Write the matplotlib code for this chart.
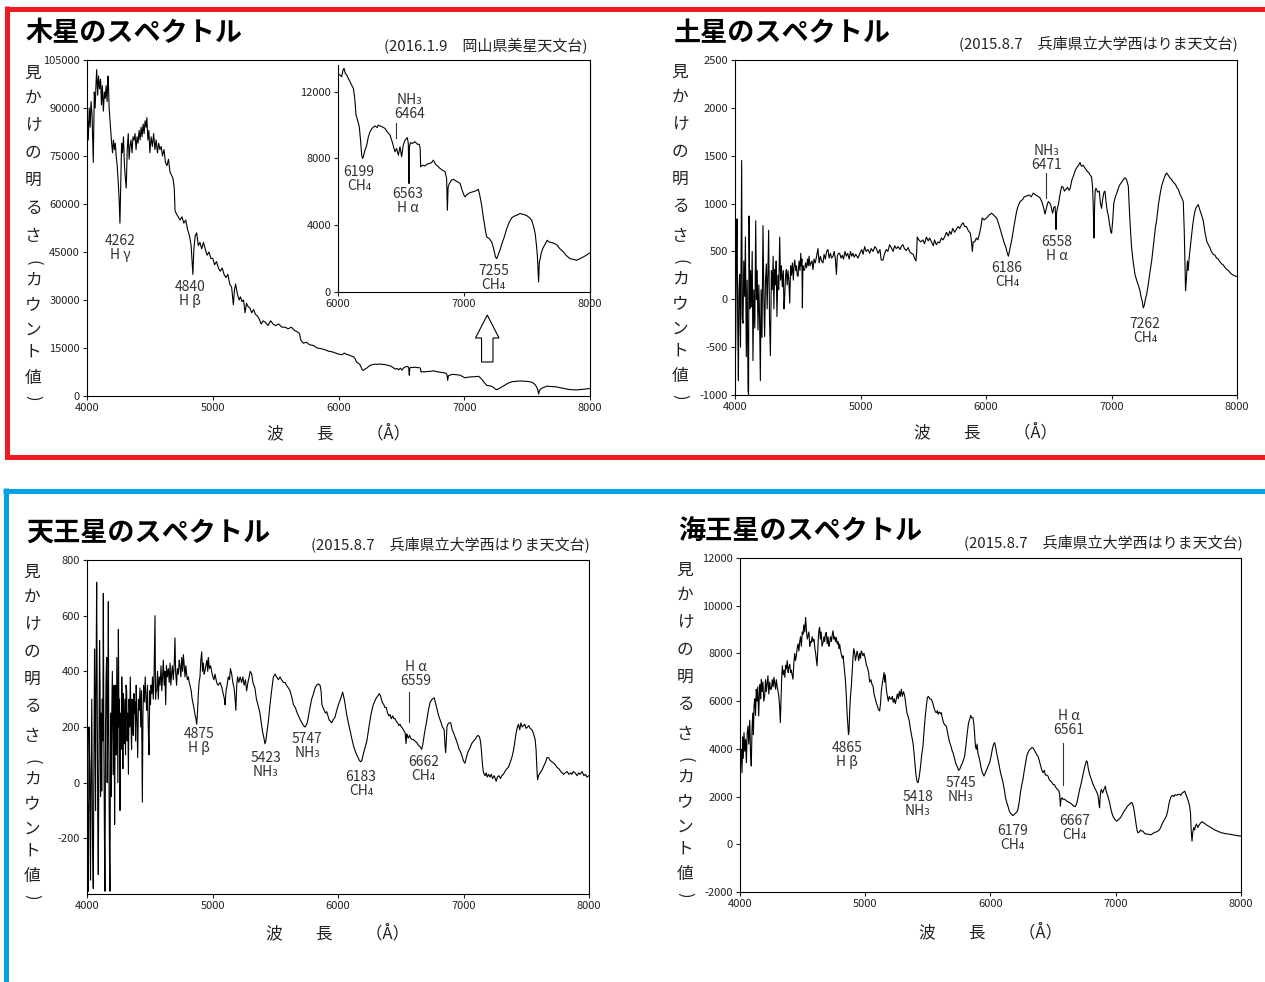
import matplotlib
matplotlib.use('Agg')
import matplotlib.pyplot as plt
from matplotlib.lines import Line2D
from matplotlib.patches import FancyArrow

# ---- Jupiter, 4000-6000 A (counts) ----
jup_wl = [4000, 4005, 4010, 4018, 4025, 4032, 4040, 4050, 4058, 4065, 4072, 4077, 4085, 4092,
          4100, 4108, 4115, 4122, 4130, 4138, 4145, 4152, 4160, 4166, 4170, 4176, 4183, 4190,
          4196, 4203, 4210, 4218, 4225, 4232, 4240, 4248, 4255, 4262, 4268, 4275, 4282, 4290,
          4298, 4305, 4312, 4320, 4328, 4335, 4342, 4350, 4358, 4366, 4374, 4382, 4390, 4398,
          4406, 4414, 4422, 4430, 4438, 4446, 4454, 4462, 4470, 4476, 4484, 4492, 4500, 4510,
          4520, 4530, 4540, 4550, 4560, 4570, 4580, 4590, 4600, 4612, 4624, 4636, 4648, 4660,
          4672, 4684, 4694, 4700, 4710, 4725, 4740, 4755, 4770, 4785, 4800, 4815, 4828, 4836,
          4842, 4850, 4860, 4872, 4885, 4898, 4912, 4926, 4940, 4955, 4970, 4985, 5000, 5015,
          5030, 5045, 5060, 5075, 5090, 5105, 5120, 5135, 5150, 5158, 5164, 5172, 5182, 5195,
          5210, 5220, 5232, 5245, 5257, 5268, 5280, 5295, 5310, 5325, 5340, 5355, 5370, 5385,
          5400, 5420, 5440, 5460, 5480, 5500, 5525, 5550, 5575, 5600, 5625, 5650, 5675, 5690,
          5700, 5720, 5745, 5770, 5800, 5830, 5860, 5890, 5920, 5950, 5980]
jup_val = [78000, 86000, 80000, 90000, 84000, 92000, 88000, 73000, 95000, 90000, 98000, 102000,
           94000, 100000, 96000, 99000, 91000, 97000, 89000, 95000, 93000, 97000, 92000, 100000,
           98000, 90000, 86000, 82000, 79000, 76000, 80000, 77000, 79000, 75000, 72000, 67000,
           62000, 54000, 66000, 79000, 76000, 81000, 72000, 68000, 65000, 77000, 82000, 74000,
           78000, 80000, 76000, 81000, 80000, 82000, 77000, 81000, 79000, 83000, 80000, 84000,
           81000, 85000, 82000, 86000, 84000, 87000, 80000, 83000, 76000, 81000, 78000, 82000,
           77000, 80000, 76000, 79000, 77000, 78000, 75000, 77000, 73000, 72000, 74000, 70000,
           69000, 68000, 65000, 58000, 57000, 56000, 55000, 56000, 54000, 55000, 52000, 50000,
           47000, 42000, 38000, 46000, 50000, 51000, 47000, 48000, 46000, 48000, 46000, 44000,
           45000, 43000, 43000, 41000, 42000, 40000, 39000, 40000, 38000, 37000, 38000, 35000,
           34000, 31000, 28500, 33000, 35000, 32000, 30000, 31000, 29500, 30000, 26000, 29000,
           28000, 27500, 26000, 27000, 25500, 25000, 24000, 22500, 23500, 23000, 22000, 23500,
           22500, 22000, 22500, 21500, 21500, 21000, 21500, 20500, 20000, 19500, 17500, 16500,
           16800, 16000, 15800, 15000, 14800, 14500, 14000, 13800, 13400]

# ---- Jupiter, 6000-8000 A (also shown in the inset) ----
jup_ir_wl = [6000, 6015, 6029, 6040, 6048, 6058, 6069, 6082, 6095, 6108, 6122, 6133, 6143, 6155,
             6169, 6180, 6188, 6195, 6201, 6214, 6228, 6241, 6254, 6270, 6285, 6294, 6310, 6320,
             6333, 6350, 6373, 6390, 6413, 6430, 6452, 6465, 6479, 6492, 6505, 6518, 6532, 6550,
             6558, 6563, 6567, 6575, 6590, 6611, 6630, 6645, 6652, 6656, 6670, 6690, 6704, 6725,
             6742, 6757, 6775, 6790, 6810, 6830, 6850, 6862, 6868, 6874, 6884, 6900, 6916, 6935,
             6950, 6969, 6985, 7000, 7008, 7025, 7048, 7070, 7090, 7114, 7125, 7140, 7155, 7170,
             7180, 7200, 7220, 7235, 7250, 7259, 7270, 7285, 7299, 7320, 7339, 7360, 7380, 7400,
             7420, 7444, 7470, 7497, 7520, 7537, 7553, 7565, 7575, 7582, 7588, 7592, 7598, 7605,
             7612, 7625, 7643, 7660, 7675, 7700, 7720, 7740, 7760, 7789, 7810, 7841, 7870, 7894,
             7920, 7947, 7970, 8000]
jup_ir_val = [13100, 13000, 12900, 13300, 13400, 13100, 13000, 12800, 12600, 12400, 12200, 11600,
              10600, 10300, 9900, 9000, 8200, 8000, 8100, 8500, 8800, 9300, 9600, 9800, 9900,
              9950, 9850, 10000, 9950, 9900, 9800, 9600, 9400, 9000, 8400, 8600, 8200, 8700, 8100,
              8800, 9100, 9250, 8900, 6500, 8700, 8950, 8900, 9000, 8850, 8850, 8600, 7500, 7600,
              7550, 7650, 7700, 7750, 7900, 7650, 7550, 7400, 7300, 7200, 6800, 4900, 6300, 6500,
              6700, 6750, 6650, 6600, 6500, 6100, 5800, 5700, 5850, 5950, 6000, 6050, 6150, 5800,
              5200, 4400, 3700, 3300, 3200, 3000, 2600, 2100, 2000, 2200, 2500, 2850, 3300, 3800,
              4200, 4450, 4550, 4600, 4700, 4650, 4580, 4450, 4300, 3900, 3500, 2800, 2200, 1200,
              600, 1800, 2000, 2300, 2600, 2850, 3100, 3000, 2950, 2900, 2800, 2600, 2400, 2200,
              2000, 1950, 1900, 2000, 2100, 2200, 2350]

# ---- Saturn ----
sat_wl = [4000, 4005, 4010, 4016, 4022, 4027, 4032, 4037, 4044, 4049, 4053, 4058, 4064, 4070,
          4077, 4083, 4090, 4097, 4104, 4108, 4112, 4118, 4124, 4130, 4137, 4143, 4150, 4158,
          4165, 4171, 4177, 4183, 4190, 4196, 4202, 4208, 4215, 4223, 4230, 4236, 4243, 4250,
          4256, 4262, 4268, 4275, 4282, 4290, 4297, 4304, 4310, 4316, 4322, 4328, 4334, 4342,
          4349, 4356, 4363, 4370, 4377, 4385, 4390, 4396, 4403, 4409, 4416, 4422, 4429, 4436,
          4443, 4450, 4457, 4465, 4470, 4476, 4484, 4490, 4496, 4502, 4510, 4518, 4524, 4529,
          4533, 4537, 4541, 4548, 4555, 4562, 4570, 4578, 4584, 4590, 4598, 4606, 4614, 4621,
          4630, 4640, 4650, 4661, 4670, 4680, 4690, 4701, 4710, 4720, 4730, 4741, 4750, 4760,
          4770, 4781, 4790, 4800, 4808, 4815, 4825, 4834, 4845, 4855, 4865, 4876, 4887, 4898,
          4910, 4920, 4930, 4940, 4950, 4962, 4980, 4995, 5010, 5020, 5033, 5045, 5060, 5073,
          5085, 5100, 5115, 5126, 5140, 5155, 5165, 5179, 5190, 5205, 5218, 5232, 5245, 5260,
          5272, 5285, 5300, 5315, 5328, 5338, 5350, 5365, 5380, 5391, 5405, 5420, 5431, 5442,
          5448, 5452, 5465, 5480, 5498, 5510, 5525, 5540, 5551, 5565, 5580, 5590, 5604, 5618,
          5630, 5645, 5657, 5670, 5685, 5700, 5710, 5722, 5735, 5750, 5763, 5778, 5790, 5805,
          5817, 5830, 5843, 5858, 5875, 5883, 5891, 5898, 5910, 5923, 5935, 5949, 5960, 5970,
          5985, 6005, 6025, 6045, 6060, 6085, 6105, 6125, 6145, 6159, 6170, 6178, 6188, 6205,
          6225, 6244, 6258, 6271, 6290, 6305, 6324, 6345, 6360, 6377, 6395, 6410, 6430, 6445,
          6460, 6470, 6477, 6483, 6490, 6497, 6505, 6515, 6525, 6531, 6540, 6550, 6555, 6558,
          6562, 6570, 6577, 6590, 6603, 6615, 6625, 6637, 6650, 6660, 6669, 6685, 6700, 6709,
          6725, 6738, 6749, 6760, 6775, 6789, 6805, 6820, 6829, 6840, 6846, 6850, 6856, 6860,
          6866, 6870, 6876, 6890, 6903, 6912, 6921, 6930, 6940, 6948, 6958, 6966, 6974, 6985,
          6995, 7001, 7010, 7018, 7028, 7045, 7060, 7068, 7085, 7100, 7107, 7120, 7134, 7142,
          7150, 7160, 7172, 7187, 7200, 7213, 7225, 7235, 7245, 7253, 7262, 7270, 7280, 7292,
          7305, 7320, 7335, 7350, 7359, 7375, 7390, 7399, 7415, 7430, 7439, 7450, 7465, 7479,
          7495, 7510, 7520, 7532, 7545, 7560, 7572, 7580, 7586, 7590, 7596, 7605, 7611, 7620,
          7630, 7645, 7655, 7665, 7675, 7691, 7705, 7718, 7731, 7745, 7760, 7772, 7784, 7795,
          7810, 7825, 7837, 7850, 7865, 7878, 7890, 7905, 7920, 7932, 7944, 7960, 7975, 7990,
          8000]
sat_val = [500, -540, 300, 840, -300, -850, 100, 260, -500, 500, 1450, -200, -250, 400,
           30, 650, -600, 200, -950, -1000, 870, -100, 300, -80, 500, -640, 100, -300,
           820, 0, 300, -320, 150, -200, -850, 100, -400, 770, 0, -390, 200, 370,
           -100, 250, 720, -200, -590, 300, 100, 450, -100, 310, 150, 400, -180, 250,
           100, 650, 200, 350, 130, 300, -100, 30, 250, 310, 150, 300, 200, -40,
           350, 250, 380, 200, 350, 410, 300, 350, 250, 240, 400, 300, 480, 350,
           420, -90, 350, 300, 310, 380, 330, 420, 350, 450, 350, 380, 400, 310,
           420, 380, 450, 530, 380, 450, 400, 380, 470, 420, 500, 520, 430, 480,
           430, 450, 500, 420, 260, 450, 480, 480, 430, 460, 420, 500, 450, 480,
           420, 500, 450, 480, 440, 470, 430, 480, 520, 470, 550, 500, 520, 480,
           530, 500, 550, 530, 480, 520, 410, 410, 470, 520, 500, 570, 540, 500,
           560, 530, 550, 520, 560, 570, 530, 510, 540, 500, 480, 470, 430, 400,
           500, 650, 620, 600, 620, 580, 650, 610, 640, 600, 560, 620, 570, 600,
           590, 640, 620, 650, 700, 660, 710, 680, 740, 700, 730, 760, 740, 780,
           800, 760, 760, 720, 690, 620, 500, 600, 600, 640, 620, 690, 760, 850,
           830, 850, 880, 900, 880, 850, 770, 680, 590, 540, 480, 450, 510, 620,
           780, 920, 980, 1020, 1040, 1070, 1080, 1090, 1070, 1110, 1090, 1080, 1060, 1020,
           950, 890, 930, 960, 1000, 1020, 1010, 990, 930, 900, 960, 970, 870, 730,
           900, 960, 990, 1100, 1180, 1170, 1130, 1150, 1170, 1140, 1150, 1250, 1300, 1340,
           1380, 1400, 1430, 1390, 1400, 1370, 1340, 1320, 1300, 1280, 1220, 1150, 900, 640,
           1000, 1130, 1160, 1120, 1130, 1000, 950, 1050, 1120, 1130, 1000, 920, 880, 780,
           700, 690, 830, 1000, 1060, 1120, 1180, 1200, 1230, 1260, 1270, 1250, 1180, 950,
           750, 540, 400, 260, 200, 150, 100, 30, -20, -90, -60, 0, 50, 150,
           270, 400, 580, 750, 820, 1000, 1120, 1180, 1250, 1300, 1320, 1300, 1270, 1250,
           1220, 1200, 1170, 1150, 1100, 1060, 1020, 700, 300, 90, 200, 400, 300, 450,
           570, 750, 850, 920, 960, 990, 930, 880, 820, 700, 600, 570, 540, 500,
           470, 460, 430, 420, 390, 370, 360, 330, 310, 300, 280, 260, 250, 240,
           240]

# ---- Uranus ----
ura_wl = [4000, 4005, 4011, 4016, 4022, 4028, 4032, 4038, 4044, 4050, 4056, 4060, 4064, 4068,
          4072, 4077, 4082, 4086, 4090, 4095, 4100, 4104, 4108, 4113, 4117, 4122, 4126, 4130,
          4135, 4139, 4143, 4148, 4152, 4157, 4161, 4166, 4170, 4174, 4179, 4183, 4188, 4192,
          4196, 4202, 4206, 4210, 4215, 4220, 4224, 4228, 4233, 4238, 4243, 4246, 4250, 4255,
          4259, 4263, 4268, 4273, 4277, 4282, 4286, 4290, 4294, 4297, 4302, 4307, 4311, 4316,
          4320, 4325, 4330, 4335, 4340, 4345, 4350, 4355, 4360, 4365, 4369, 4374, 4378, 4382,
          4387, 4392, 4397, 4404, 4410, 4416, 4422, 4428, 4434, 4441, 4446, 4451, 4457, 4464,
          4470, 4476, 4482, 4488, 4494, 4500, 4506, 4510, 4516, 4522, 4528, 4535, 4542, 4546,
          4550, 4555, 4562, 4568, 4575, 4582, 4590, 4596, 4602, 4608, 4615, 4621, 4627, 4633,
          4640, 4648, 4655, 4662, 4668, 4674, 4680, 4688, 4695, 4701, 4706, 4714, 4720, 4728,
          4735, 4741, 4748, 4755, 4762, 4768, 4775, 4781, 4788, 4794, 4800, 4808, 4814, 4821,
          4830, 4838, 4847, 4855, 4862, 4868, 4874, 4880, 4886, 4893, 4900, 4907, 4914, 4920,
          4927, 4933, 4940, 4947, 4955, 4962, 4967, 4975, 4985, 4993, 5003, 5012, 5020, 5033,
          5045, 5060, 5073, 5085, 5095, 5100, 5108, 5116, 5126, 5135, 5143, 5153, 5162, 5172,
          5180, 5186, 5193, 5200, 5210, 5220, 5232, 5242, 5252, 5262, 5272, 5282, 5292, 5300,
          5312, 5322, 5330, 5338, 5350, 5362, 5378, 5390, 5400, 5410, 5418, 5425, 5433, 5445,
          5458, 5471, 5485, 5498, 5510, 5525, 5538, 5550, 5565, 5578, 5590, 5605, 5618, 5630,
          5645, 5660, 5675, 5690, 5700, 5712, 5725, 5737, 5745, 5755, 5765, 5777, 5790, 5805,
          5817, 5830, 5845, 5857, 5865, 5872, 5880, 5890, 5900, 5910, 5920, 5930, 5941, 5950,
          5960, 5976, 5990, 6003, 6020, 6037, 6050, 6060, 6069, 6085, 6100, 6109, 6125, 6140,
          6149, 6160, 6170, 6181, 6190, 6200, 6215, 6230, 6250, 6265, 6281, 6300, 6315, 6329,
          6340, 6352, 6365, 6374, 6385, 6395, 6405, 6414, 6425, 6435, 6445, 6454, 6465, 6475,
          6485, 6494, 6505, 6515, 6526, 6535, 6542, 6548, 6555, 6560, 6570, 6580, 6590, 6600,
          6612, 6625, 6640, 6652, 6660, 6666, 6675, 6690, 6706, 6720, 6735, 6750, 6767, 6780,
          6790, 6799, 6810, 6822, 6832, 6839, 6846, 6852, 6858, 6863, 6868, 6875, 6885, 6898,
          6910, 6920, 6932, 6945, 6955, 6965, 6972, 6985, 6995, 7003, 7012, 7022, 7035, 7052,
          7065, 7080, 7092, 7105, 7115, 7127, 7135, 7142, 7150, 7158, 7165, 7172, 7180, 7190,
          7200, 7212, 7222, 7232, 7245, 7260, 7270, 7282, 7295, 7305, 7318, 7330, 7345, 7358,
          7370, 7385, 7398, 7410, 7420, 7430, 7438, 7448, 7458, 7468, 7478, 7488, 7498, 7510,
          7520, 7531, 7545, 7555, 7565, 7571, 7578, 7584, 7590, 7598, 7610, 7625, 7640, 7655,
          7665, 7678, 7690, 7705, 7718, 7731, 7745, 7760, 7775, 7787, 7797, 7810, 7825, 7840,
          7855, 7864, 7875, 7890, 7905, 7917, 7930, 7945, 7960, 7972, 7984, 8000]
ura_val = [40, -100, -390, 200, 50, -350, -30, 300, -200, -380, 100, 480, 270, -100,
           350, 720, 200, -150, -330, 100, 510, 350, -50, 250, -30, 300, 150, 680,
           100, -200, -390, 200, 380, 450, 0, 250, 650, 100, -250, -390, 250, -50,
           210, 400, 150, 30, 350, -150, 200, 350, 100, 450, 150, 0, 550, 200,
           300, -100, 250, 120, 380, 270, 50, 320, 180, 140, 300, 100, 350, 330,
           150, 250, 30, 300, 200, 380, 230, 120, 300, 200, 170, 320, 250, 290,
           150, 350, 250, 90, 300, 260, 340, 200, 330, -70, 250, 350, 290, 380,
           300, 260, 350, 200, 100, 330, 280, 350, 320, 380, 300, 400, 600, 300,
           330, 330, 400, 300, 380, 350, 420, 330, 380, 440, 350, 400, 280, 420,
           380, 410, 360, 430, 350, 390, 420, 370, 430, 520, 400, 350, 410, 390,
           440, 420, 380, 450, 400, 460, 420, 380, 420, 390, 370, 380, 360, 350,
           330, 300, 280, 260, 240, 230, 210, 250, 310, 360, 380, 440, 470, 400,
           430, 390, 400, 420, 440, 400, 450, 410, 420, 400, 380, 370, 390, 360,
           350, 360, 345, 320, 300, 280, 330, 350, 380, 370, 410, 390, 360, 340,
           300, 260, 350, 380, 360, 380, 360, 380, 350, 370, 330, 360, 380, 400,
           390, 360, 350, 340, 300, 280, 250, 210, 180, 160, 140, 150, 180, 220,
           280, 330, 380, 390, 380, 370, 380, 370, 360, 360, 350, 340, 330, 310,
           280, 270, 250, 235, 225, 215, 205, 200, 205, 215, 240, 270, 300, 320,
           340, 350, 355, 350, 330, 280, 270, 260, 250, 255, 240, 225, 220, 215,
           225, 235, 260, 280, 300, 325, 300, 270, 245, 210, 180, 160, 130, 110,
           100, 90, 80, 75, 80, 100, 125, 150, 210, 250, 280, 300, 310, 320,
           310, 290, 280, 270, 270, 250, 240, 245, 230, 240, 230, 230, 220, 215,
           205, 210, 200, 195, 185, 180, 140, 175, 165, 160, 170, 160, 155, 155,
           150, 145, 135, 130, 125, 120, 135, 180, 220, 260, 290, 300, 305, 280,
           260, 245, 230, 215, 200, 195, 190, 140, 108, 150, 200, 210, 215, 215,
           190, 180, 165, 150, 135, 120, 115, 100, 85, 75, 70, 90, 110, 125,
           140, 150, 155, 165, 170, 165, 150, 120, 70, 40, 30, 25, 35, 20,
           30, 20, 30, 15, 25, 5, 20, 25, 15, 25, 30, 40, 50, 55,
           70, 90, 115, 150, 180, 200, 210, 190, 215, 200, 205, 210, 195, 200,
           205, 195, 190, 180, 165, 155, 120, 60, 10, 25, 35, 45, 60, 75,
           90, 90, 80, 75, 70, 65, 55, 50, 40, 35, 30, 35, 40, 30,
           35, 30, 40, 35, 25, 35, 30, 40, 25, 30, 20, 25]

# ---- Neptune ----
nep_wl = [4000, 4005, 4011, 4016, 4022, 4026, 4032, 4038, 4045, 4051, 4057, 4064, 4070, 4078,
          4084, 4090, 4096, 4102, 4107, 4112, 4118, 4124, 4130, 4136, 4142, 4149, 4155, 4160,
          4165, 4170, 4177, 4183, 4190, 4197, 4204, 4210, 4216, 4223, 4230, 4237, 4243, 4250,
          4258, 4265, 4271, 4277, 4284, 4290, 4297, 4303, 4310, 4316, 4322, 4328, 4333, 4338,
          4345, 4352, 4358, 4364, 4370, 4377, 4384, 4390, 4397, 4404, 4410, 4416, 4423, 4430,
          4437, 4443, 4450, 4456, 4463, 4470, 4476, 4483, 4490, 4497, 4503, 4510, 4517, 4524,
          4530, 4537, 4543, 4550, 4557, 4563, 4569, 4576, 4583, 4591, 4598, 4604, 4610, 4615,
          4620, 4626, 4631, 4636, 4642, 4648, 4655, 4663, 4670, 4676, 4682, 4689, 4696, 4703,
          4710, 4716, 4723, 4730, 4737, 4743, 4750, 4756, 4763, 4769, 4776, 4783, 4790, 4796,
          4803, 4810, 4817, 4823, 4830, 4836, 4841, 4848, 4855, 4862, 4866, 4870, 4876, 4882,
          4889, 4896, 4902, 4908, 4915, 4922, 4928, 4935, 4942, 4948, 4955, 4962, 4968, 4974,
          4982, 4990, 5001, 5010, 5018, 5027, 5035, 5045, 5054, 5062, 5070, 5080, 5090, 5097,
          5105, 5115, 5122, 5128, 5135, 5142, 5150, 5155, 5160, 5168, 5176, 5184, 5192, 5200,
          5208, 5216, 5224, 5232, 5240, 5248, 5256, 5264, 5272, 5280, 5288, 5296, 5305, 5315,
          5325, 5333, 5341, 5350, 5362, 5372, 5381, 5390, 5398, 5405, 5413, 5421, 5430, 5440,
          5452, 5461, 5470, 5480, 5490, 5496, 5505, 5515, 5528, 5540, 5550, 5560, 5568, 5575,
          5582, 5590, 5600, 5607, 5615, 5625, 5635, 5647, 5660, 5672, 5685, 5695, 5701, 5712,
          5722, 5735, 5745, 5754, 5765, 5775, 5785, 5794, 5805, 5815, 5825, 5834, 5842, 5850,
          5860, 5868, 5875, 5880, 5887, 5893, 5900, 5906, 5915, 5925, 5935, 5948, 5960, 5975,
          5993, 6005, 6015, 6025, 6033, 6040, 6050, 6065, 6080, 6090, 6100, 6110, 6120, 6130,
          6139, 6150, 6160, 6170, 6179, 6190, 6200, 6210, 6219, 6230, 6240, 6250, 6259, 6270,
          6280, 6290, 6299, 6310, 6320, 6330, 6339, 6350, 6360, 6370, 6379, 6390, 6400, 6410,
          6419, 6430, 6438, 6450, 6459, 6470, 6480, 6490, 6499, 6510, 6520, 6534, 6545, 6552,
          6558, 6563, 6572, 6579, 6590, 6600, 6610, 6620, 6632, 6645, 6655, 6665, 6677, 6688,
          6700, 6712, 6725, 6738, 6750, 6760, 6766, 6773, 6780, 6790, 6805, 6820, 6833, 6845,
          6852, 6860, 6866, 6871, 6876, 6880, 6885, 6895, 6905, 6912, 6917, 6925, 6935, 6945,
          6951, 6960, 6970, 6980, 6992, 7005, 7015, 7025, 7035, 7045, 7058, 7070, 7082, 7093,
          7105, 7115, 7122, 7130, 7140, 7150, 7157, 7165, 7172, 7178, 7188, 7198, 7205, 7218,
          7230, 7245, 7260, 7275, 7285, 7298, 7312, 7325, 7338, 7351, 7362, 7375, 7385, 7394,
          7404, 7415, 7425, 7435, 7444, 7455, 7465, 7475, 7486, 7497, 7510, 7520, 7530, 7540,
          7550, 7560, 7570, 7580, 7590, 7597, 7602, 7609, 7615, 7622, 7630, 7636, 7645, 7655,
          7665, 7678, 7690, 7697, 7710, 7722, 7735, 7750, 7764, 7778, 7790, 7805, 7820, 7832,
          7843, 7858, 7872, 7885, 7900, 7912, 7923, 7935, 7948, 7960, 7975, 7990, 8000]
nep_val = [2580, 3500, 3980, 3000, 4500, 3600, 4680, 3900, 4400, 3420, 4600, 4960, 4200, 5200,
           3800, 3280, 4800, 5500, 4600, 5800, 6100, 5400, 6500, 6000, 6600, 5380, 6300, 6700,
           6100, 6920, 6400, 6800, 6000, 6220, 6900, 6400, 6700, 7060, 6300, 6800, 6500, 6500,
           6900, 6600, 7000, 6780, 6500, 6900, 6600, 6430, 6200, 5800, 5100, 6200, 7000, 7480,
           7100, 7300, 7000, 7500, 7340, 7700, 7200, 7400, 7550, 7200, 7300, 7100, 6920, 7600,
           8000, 7700, 7900, 8200, 8400, 8100, 8460, 8700, 8300, 8900, 8810, 9200, 8900, 9510,
           9000, 8600, 8740, 8900, 8300, 8500, 8460, 8700, 8500, 8600, 8200, 8000, 7700, 7480,
           8000, 8700, 9000, 9090, 8600, 8900, 8300, 8460, 8700, 8500, 8800, 8880, 8400, 8700,
           8300, 8460, 8700, 8500, 8800, 8950, 8600, 8700, 8500, 8670, 8400, 8500, 8200, 8390,
           8100, 7950, 7800, 7900, 7500, 7200, 6920, 6300, 5500, 4900, 4600, 4680, 5600, 6200,
           6640, 7300, 7800, 8200, 8040, 7700, 7900, 8100, 7900, 7700, 8000, 7800, 8100, 8040,
           7900, 8000, 7760, 7500, 7400, 7200, 6800, 6900, 6700, 6640, 6300, 6100, 5900, 5800,
           5650, 5590, 5900, 6400, 6700, 6920, 7200, 6800, 7100, 6500, 6220, 6000, 6200, 6100,
           6080, 6200, 5950, 6100, 5900, 6080, 6300, 6100, 6400, 6200, 6500, 6200, 6400, 6220,
           5800, 5500, 5380, 5200, 4800, 4500, 4260, 3800, 3300, 2900, 2650, 2580, 2800, 3200,
           3800, 4120, 4800, 5400, 5900, 6150, 6200, 6100, 6080, 5900, 5700, 5550, 5520, 5600,
           5450, 5550, 5480, 5520, 5300, 5100, 5000, 4960, 4600, 4300, 4100, 3900, 3840, 3600,
           3400, 3250, 3100, 3140, 3300, 3400, 3550, 3700, 4200, 4700, 5100, 5240, 5400, 5300,
           5310, 5000, 4500, 4100, 3980, 4200, 3800, 3700, 3500, 3200, 3000, 2860, 3000, 3200,
           3420, 3700, 4000, 4200, 4260, 4100, 3800, 3420, 3000, 2800, 2580, 2300, 1950, 1750,
           1600, 1400, 1300, 1250, 1200, 1250, 1300, 1350, 1460, 1800, 2200, 2500, 2720, 3100,
           3400, 3700, 3840, 3950, 4000, 4050, 4050, 3950, 3850, 3750, 3700, 3500, 3300, 3100,
           3000, 3100, 2900, 2900, 2860, 2700, 2650, 2600, 2510, 2500, 2400, 2300, 2250, 2100,
           1600, 1900, 1950, 1880, 1900, 1850, 1800, 1780, 1740, 1700, 1650, 1600, 1580, 1700,
           2000, 2300, 2580, 2900, 3200, 3400, 3500, 3450, 3200, 2950, 2720, 2500, 2350, 2230,
           2150, 2000, 1700, 1530, 2000, 2200, 2300, 2150, 2300, 2350, 2440, 2200, 2050, 1850,
           1740, 1500, 1300, 1150, 1050, 970, 1000, 1050, 1100, 1180, 1300, 1420, 1500, 1600,
           1650, 1700, 1750, 1740, 1600, 1300, 1040, 750, 550, 480, 520, 600, 560, 550,
           450, 430, 420, 400, 410, 460, 500, 520, 560, 620, 750, 900, 1000, 1100,
           1180, 1400, 1700, 1900, 2020, 2050, 2000, 2080, 2050, 2090, 2100, 2050, 2150, 2180,
           2230, 2100, 1950, 1800, 1600, 1300, 600, 130, 500, 700, 600, 760, 850, 700,
           800, 900, 950, 900, 880, 820, 780, 730, 690, 640, 600, 570, 530, 510,
           480, 470, 450, 440, 430, 420, 410, 400, 380, 370, 360, 350, 340]

TITLES = ['木星のスペクトル', '土星のスペクトル', '天王星のスペクトル', '海王星のスペクトル']
SOURCES = ['(2016.1.9\u3000岡山県美星天文台)', '(2015.8.7\u3000兵庫県立大学西はりま天文台)',
           '(2015.8.7\u3000兵庫県立大学西はりま天文台)', '(2015.8.7\u3000兵庫県立大学西はりま天文台)']
YLABEL = list('見かけの明るさ(カウント値)')
XLABEL = '波\u3000\u3000長\u3000\u3000（Å）'

plt.rcParams['font.family'] = ['Noto Sans CJK JP', 'DejaVu Sans']
plt.rcParams['axes.unicode_minus'] = False

W, H = 1265, 982
fig = plt.figure(figsize=(W / 100, H / 100), dpi=100)
INK = '#222222'
NOTE = '#333333'


def px_axes(l, t, r, b):
    return fig.add_axes([l / W, 1 - b / H, (r - l) / W, (b - t) / H])


def ftext(x, y, s, **kw):
    return fig.text(x / W, 1 - y / H, s, **kw)


def style(ax, xlim, ylim, xticks, yticks):
    ax.set_xlim(*xlim)
    ax.set_ylim(*ylim)
    ax.set_xticks(xticks)
    ax.set_yticks(yticks)
    ax.tick_params(direction='out', length=3, width=0.8, labelsize=8, colors=INK, pad=2)
    for sp in ax.spines.values():
        sp.set_linewidth(0.8)


def notes(ax, items):
    for s, x, y in items:
        ax.text(x, y, s, ha='center', va='center', fontsize=10, color=NOTE, linespacing=1.0)


YOFF = [0, 25, 52, 80, 107, 135, 164, 190, 207, 232, 257, 279, 305, 325]


def ylabel(x, y0):
    for ch, off in zip(YLABEL, YOFF):
        rot = 270 if ch in '()' else 0
        ftext(x, y0 + off, ch, ha='center', va='center', fontsize=12, color=INK, rotation=rot)


def panel_text(i, tx, ty, sx, sy, lx, ly, xx, xy):
    ftext(tx, ty, TITLES[i], ha='left', va='center', fontsize=19.5, weight='bold', color='black')
    ftext(sx, sy, SOURCES[i], ha='right', va='center', fontsize=10.8, color=INK)
    ylabel(lx, ly)
    ftext(xx, xy, XLABEL, ha='center', va='center', fontsize=12, color=INK)


xt = [4000, 5000, 6000, 7000, 8000]

# Jupiter
ax = px_axes(87, 60, 590, 396)
ax.plot(jup_wl + jup_ir_wl, jup_val + jup_ir_val, color='black', lw=0.8)
style(ax, (4000, 8000), (0, 105000), xt, range(0, 105001, 15000))
notes(ax, [('4262\nH γ', 4262, 46100), ('4840\nH β', 4819, 32000)])
ax.add_patch(FancyArrow(7183, 10625, 0, 14690, width=91, head_width=187, head_length=7190,
                        length_includes_head=True, facecolor='white', edgecolor='black', lw=0.8))
ins = px_axes(338, 65, 590, 292)
ins.plot(jup_ir_wl, jup_ir_val, color='black', lw=0.8)
style(ins, (6000, 8000), (0, 13600), [6000, 7000, 8000], [0, 4000, 8000, 12000])
ins.spines['top'].set_visible(False)
notes(ins, [('6199\nCH₄', 6167, 6750), ('NH₃\n6464', 6571, 11100),
            ('6563\nH α', 6556, 5430), ('7255\nCH₄', 7235, 810)])
ins.plot([6464, 6464], [9235, 10135], color=NOTE, lw=0.8)
panel_text(0, 26, 33, 588, 45, 33, 73, 339, 433)

# Saturn
ax = px_axes(735, 60, 1237, 395)
ax.plot(sat_wl, sat_val, color='black', lw=0.8)
style(ax, (4000, 8000), (-1000, 2500), xt, range(-1000, 2501, 500))
notes(ax, [('NH₃\n6471', 6486, 1481), ('6186\nCH₄', 6167, 254),
           ('6558\nH α', 6562, 525), ('7262\nCH₄', 7267, -331)])
ax.plot([6478, 6478], [1058, 1319], color=NOTE, lw=0.8)
panel_text(1, 674, 33, 1238, 43, 680, 72, 986, 432)

# Uranus
ax = px_axes(87, 560, 589, 894)
ax.plot(ura_wl, ura_val, color='black', lw=0.8)
style(ax, (4000, 8000), (-400, 800), xt, range(-200, 801, 200))
notes(ax, [('4875\nH β', 4891, 149), ('5423\nNH₃', 5426, 65), ('5747\nNH₃', 5753, 131),
           ('6183\nCH₄', 6184, -4), ('H α\n6559', 6617, 392), ('6662\nCH₄', 6683, 50)])
ax.plot([6566, 6566], [219, 324], color=NOTE, lw=0.8)
panel_text(2, 26, 533, 590, 544, 32, 572, 338, 933)

# Neptune
ax = px_axes(740, 558, 1241, 892)
ax.plot(nep_wl, nep_val, color='black', lw=0.8)
style(ax, (4000, 8000), (-2000, 12000), xt, range(-2000, 12001, 2000))
notes(ax, [('4865\nH β', 4855, 3761), ('5418\nNH₃', 5419, 1702), ('5745\nNH₃', 5763, 2269),
           ('6179\nCH₄', 6177, 273), ('H α\n6561', 6623, 5063), ('6667\nCH₄', 6670, 693)])
ax.plot([6575, 6575], [2479, 4244], color=NOTE, lw=0.8)
panel_text(3, 678, 532, 1243, 542, 685, 570, 991, 932)

# coloured frames
RED, BLUE = '#ED1C24', '#00A2E8'
for (x0, y0, x1, y1, c) in [(5, 8.5, 1265, 8.5, RED), (7.5, 6, 7.5, 459, RED),
                            (5, 456.5, 1265, 456.5, RED),
                            (3, 490.5, 1265, 490.5, BLUE), (5.5, 488, 5.5, 982, BLUE)]:
    fig.add_artist(Line2D([x0 / W, x1 / W], [1 - y0 / H, 1 - y1 / H], transform=fig.transFigure,
                          color=c, lw=3.6, solid_capstyle='butt'))

fig.savefig('out.png', dpi=100)
